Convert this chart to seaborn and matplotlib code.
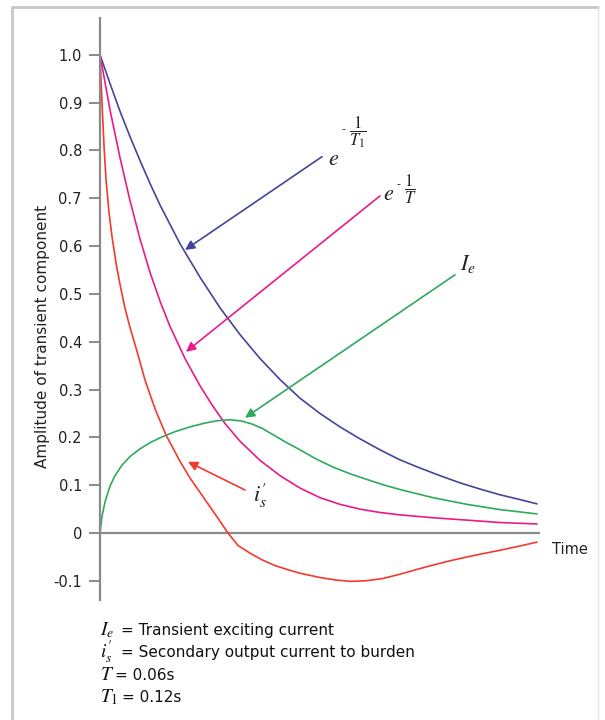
import numpy as np
import pandas as pd
import matplotlib
matplotlib.use("Agg")
import matplotlib.pyplot as plt
import seaborn as sns
from matplotlib.lines import Line2D

# time axis (arbitrary units, no tick labels shown)
t_blue = [0, 0.010, 0.020, 0.030, 0.040, 0.050, 0.060, 0.080, 0.100, 0.120, 0.140,
          0.160, 0.180, 0.200, 0.220, 0.240, 0.260, 0.280, 0.300, 0.320, 0.340,
          0.360, 0.380, 0.400, 0.420, 0.437]
v_blue = [1.0, 0.94, 0.882, 0.829, 0.779, 0.731, 0.686, 0.605, 0.535, 0.471, 0.415,
          0.365, 0.321, 0.282, 0.25, 0.222, 0.197, 0.174, 0.153, 0.136, 0.120,
          0.105, 0.092, 0.080, 0.070, 0.061]

t_pink = [0, 0.010, 0.020, 0.030, 0.040, 0.050, 0.060, 0.070, 0.085, 0.100, 0.112,
          0.125, 0.140, 0.160, 0.180, 0.200, 0.220, 0.240, 0.260, 0.280, 0.300,
          0.333, 0.367, 0.400, 0.437]
v_pink = [1.0, 0.885, 0.785, 0.695, 0.615, 0.545, 0.485, 0.432, 0.365, 0.308, 0.268,
          0.229, 0.192, 0.152, 0.120, 0.094, 0.074, 0.060, 0.050, 0.043, 0.038,
          0.032, 0.027, 0.022, 0.019]

t_green = [0, 0.002, 0.005, 0.010, 0.015, 0.022, 0.030, 0.040, 0.050, 0.062, 0.075,
           0.090, 0.105, 0.118, 0.130, 0.142, 0.152, 0.162, 0.172, 0.185, 0.200,
           0.216, 0.233, 0.250, 0.267, 0.283, 0.300, 0.333, 0.367, 0.400, 0.437]
v_green = [0.0, 0.035, 0.065, 0.098, 0.12, 0.142, 0.16, 0.176, 0.189, 0.201, 0.212,
           0.222, 0.23, 0.235, 0.237, 0.234, 0.228, 0.219, 0.207, 0.191, 0.174,
           0.155, 0.138, 0.124, 0.112, 0.101, 0.091, 0.074, 0.060, 0.049, 0.040]

t_red = [0, 0.002, 0.004, 0.006, 0.009, 0.012, 0.016, 0.020, 0.025, 0.030, 0.037,
         0.045, 0.055, 0.066, 0.080, 0.090, 0.100, 0.115, 0.128, 0.138, 0.150,
         0.162, 0.175, 0.190, 0.200, 0.220, 0.235, 0.250, 0.265, 0.283, 0.300,
         0.317, 0.333, 0.350, 0.367, 0.383, 0.400, 0.420, 0.437]
v_red = [1.0, 0.90, 0.81, 0.74, 0.67, 0.62, 0.565, 0.52, 0.47, 0.43, 0.38,
         0.32, 0.26, 0.205, 0.15, 0.115, 0.085, 0.04, 0.0, -0.026, -0.042,
         -0.056, -0.068, -0.078, -0.084, -0.093, -0.098, -0.101, -0.100, -0.095, -0.086,
         -0.076, -0.067, -0.058, -0.050, -0.043, -0.036, -0.027, -0.019]

y_ticks = [-0.1, 0, 0.1, 0.2, 0.3, 0.4, 0.5, 0.6, 0.7, 0.8, 0.9, 1.0]
y_tick_labels = ["-0.1", "0", "0.1", "0.2", "0.3", "0.4", "0.5", "0.6", "0.7", "0.8", "0.9", "1.0"]

# arrows: (tail, tip) in data coords
arrows = {
    "blue": ((0.222, 0.787), (0.085, 0.592)),
    "pink": ((0.280, 0.705), (0.086, 0.379)),
    "green": ((0.355, 0.540), (0.145, 0.241)),
    "red": ((0.145, 0.090), (0.088, 0.149)),
}
colors = {"blue": "#45459a", "pink": "#ea1a8c", "green": "#2eaa5e", "red": "#f23a30"}

# curve labels: e, minus sign, fraction
exp_labels = [
    # (e_x, e_y, minus_x, minus_y, frac_x, frac_y, frac)
    (0.228, 0.770, 0.243, 0.845, 0.249, 0.839, r"$\dfrac{\mathit{1}}{T_{\mathit{1}}}$"),
    (0.283, 0.697, 0.298, 0.730, 0.304, 0.718, r"$\dfrac{\mathit{1}}{T}$"),
]
plain_labels = [(0.360, 0.550, r"$I_e$"), (0.153, 0.066, r"$i^{\prime}_{s}$")]

footer_math = [r"$I_e$", r"$i^{\prime}_{s}$", r"$T$", r"$T_{\mathit{1}}$"]
footer_text = ["= Transient exciting current",
               "= Secondary output current to burden",
               "= 0.06s",
               "= 0.12s"]
footer_text_x = [121, 121, 115, 122]

sns.set_style("white")
plt.rcParams["font.family"] = ["DejaVu Sans"]
plt.rcParams["mathtext.fontset"] = "stix"

fig = plt.figure(figsize=(6.05, 7.2), dpi=100)
ax = fig.add_axes([100 / 605, 1 - 600 / 720, 440 / 605, 582 / 720])

series = [("blue", t_blue, v_blue), ("pink", t_pink, v_pink),
          ("green", t_green, v_green), ("red", t_red, v_red)]
for name, t, v in series:
    df = pd.DataFrame({"t": t, "v": v})
    sns.lineplot(data=df, x="t", y="v", ax=ax, color=colors[name], lw=1.2)

ax.axhline(0, color="#8a8a8a", lw=1.6, zorder=1)
ax.set_xlim(0, 0.44)
ax.set_ylim(-0.14, 1.077)
ax.set_xlabel("")
ax.set_ylabel("Amplitude of transient component", fontsize=11, color="#222222")
ax.yaxis.set_label_coords(-0.114, 0.452)
ax.set_xticks([])
ax.set_yticks(y_ticks)
ax.set_yticklabels(y_tick_labels, fontsize=10.5, color="#222222")
ax.tick_params(axis="y", direction="out", length=8, width=1.4, color="#8a8a8a", pad=5, left=True)
for s in ["top", "right", "bottom"]:
    ax.spines[s].set_visible(False)
ax.spines["left"].set_color("#8a8a8a")
ax.spines["left"].set_linewidth(1.6)

for name, (tail, tip) in arrows.items():
    ax.annotate("", xy=tip, xytext=tail,
                arrowprops=dict(arrowstyle="-|>", color=colors[name], lw=1.2,
                                mutation_scale=14, shrinkA=0, shrinkB=0))

for ex, ey, mx, my, fx, fy, frac in exp_labels:
    ax.text(ex, ey, r"$e$", fontsize=16, color="#222222", ha="left", va="baseline")
    ax.text(mx, my, "-", fontsize=8, color="#222222", ha="center", va="center")
    ax.text(fx, fy, frac, fontsize=12, color="#222222", ha="left", va="center")
for x, y, s in plain_labels:
    ax.text(x, y, s, fontsize=16, color="#222222", ha="left", va="baseline")

ax.text(0.452, -0.035, "Time", fontsize=10.5, color="#222222", ha="left", va="center",
        clip_on=False)

for i, (m, s, xs) in enumerate(zip(footer_math, footer_text, footer_text_x)):
    yy = 1 - (630 + i * 22.5) / 720
    fig.text(100 / 605, yy, m, fontsize=14, color="#111111", ha="left", va="center")
    fig.text(xs / 605, yy, s, fontsize=11, color="#111111", ha="left", va="center")

# light frame around the figure
frame_kw = dict(color="#c8c8c8", lw=2, transform=fig.transFigure)
fig.add_artist(Line2D([12 / 605, 12 / 605], [0, 1 - 7 / 720], **frame_kw))
fig.add_artist(Line2D([12 / 605, 598 / 605], [1 - 7 / 720, 1 - 7 / 720], **frame_kw))
fig.add_artist(Line2D([598 / 605, 598 / 605], [0, 1 - 7 / 720], color="#e4e4e4", lw=1,
                      transform=fig.transFigure))

fig.savefig("out.png", dpi=100)
